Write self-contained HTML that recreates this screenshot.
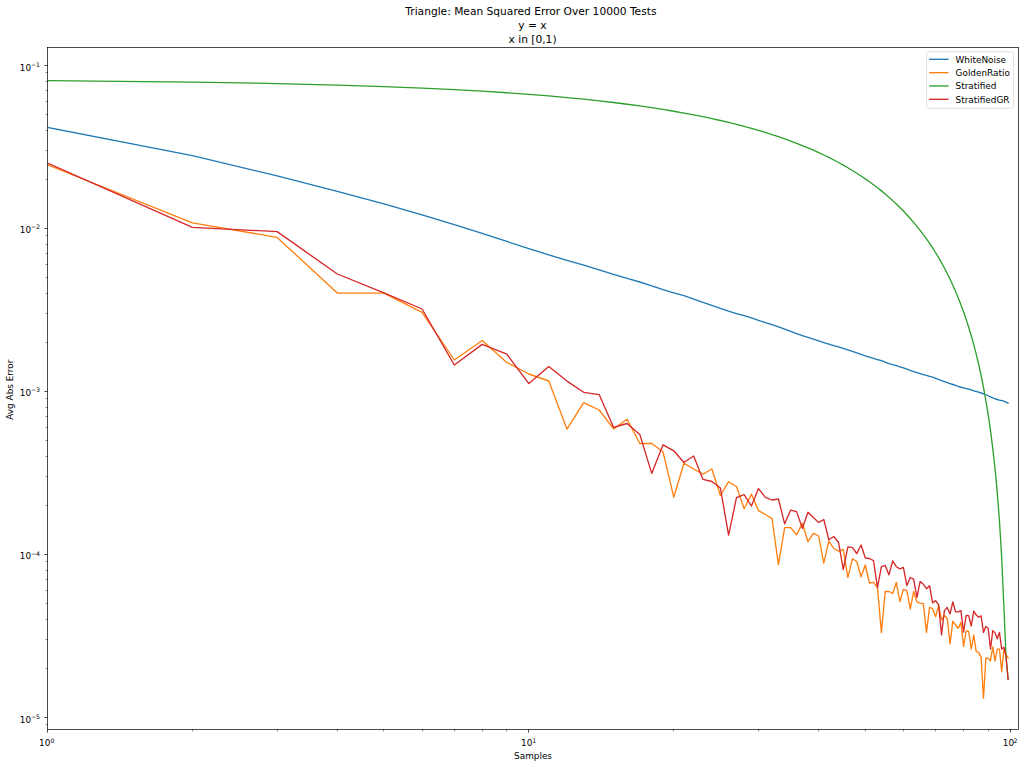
<!DOCTYPE html>
<html><head><meta charset="utf-8"><title>Triangle: Mean Squared Error Over 10000 Tests</title><style>
html,body{margin:0;padding:0;background:#fff;}
body{width:1024px;height:767px;overflow:hidden;}
svg{display:block;}
</style></head><body>
<svg width="1024" height="767" viewBox="0 0 1024 767">
<defs><clipPath id="c"><rect x="47.5" y="47.5" width="971" height="682"/></clipPath></defs>
<rect width="1024" height="767" fill="#fff"/>
<g clip-path="url(#c)" fill="none" stroke-width="1.33" stroke-linejoin="round" stroke-linecap="square">
<polyline stroke="#1f77b4" points="47.5,127.3 192.4,155.66 277.16,175.89 337.3,191.35 383.95,203.97 422.06,214.94 454.29,224.55 482.2,233.39 506.82,241.45 528.85,248.6 548.77,254.87 566.96,260.31 583.7,265.09 599.19,269.78 613.61,274.47 627.1,278.46 639.78,282 651.73,285.8 663.03,289.59 673.75,292.77 683.95,295.71 693.68,299.03 702.97,302.33 711.86,305.4 720.4,308.43 728.6,311.2 736.49,313.57 744.09,315.72 751.43,317.94 758.51,320.34 765.37,322.62 772,324.69 778.44,326.84 784.68,329.11 790.74,331.36 796.63,333.51 802.35,335.56 807.93,337.44 813.36,339.19 818.65,340.94 823.81,342.59 828.85,344.11 833.77,345.53 838.58,346.91 843.27,348.41 847.87,349.96 852.36,351.41 856.77,352.86 861.08,354.38 865.3,355.81 869.44,357.08 873.5,358.36 877.48,359.58 881.39,360.73 885.22,362.08 888.99,363.56 892.69,364.73 896.33,365.73 899.9,366.78 903.41,367.88 906.87,369.1 910.27,370.38 913.61,371.55 916.9,372.63 920.15,373.65 923.34,374.58 926.48,375.43 929.58,376.3 932.63,377.23 935.64,378.28 938.6,379.48 941.53,380.63 944.41,381.62 947.25,382.58 950.06,383.55 952.83,384.5 955.56,385.45 958.26,386.38 960.92,387.25 963.55,387.97 966.15,388.56 968.71,389.18 971.25,389.96 973.75,390.77 976.23,391.5 978.67,392.23 981.09,393 983.48,393.84 985.84,394.75 988.17,395.74 990.48,396.8 992.77,397.84 995.03,398.75 997.27,399.5 999.48,400.05 1001.67,400.52 1003.83,401.14 1005.98,402.05 1008.1,403.1"/>
<polyline stroke="#ff7f0e" points="47.5,164.8 192.4,222.8 277.16,237.4 337.3,293.1 383.95,293.2 422.06,312.4 454.29,360 482.2,340.5 506.82,362.5 528.85,374 548.77,381 566.96,429.1 583.7,402.7 599.19,410 613.61,428.9 627.1,419.3 639.78,443.5 651.73,443.5 663.03,451.8 673.75,497.2 683.95,463.3 693.68,469 702.97,474.2 711.86,469 720.4,495.5 728.6,481.7 736.49,486.5 744.09,508.8 751.43,494.2 758.51,510.7 765.37,514.5 772,518.6 778.44,564.7 784.68,527.6 790.74,527.6 796.63,534.9 802.35,523.3 807.93,541.7 813.36,533.3 818.65,536 823.81,563.1 828.85,541.2 833.77,548.5 838.58,551.1 843.27,549.5 847.87,577.7 852.36,558.9 856.77,561.5 861.08,576.8 865.3,565 869.44,583 873.5,582.4 877.48,587.6 881.39,632.6 885.22,591.5 888.99,591.5 892.69,593.5 896.33,582.4 899.9,601.5 903.41,589.3 906.87,590.6 910.27,609.1 913.61,591.5 916.9,601.9 920.15,603.2 923.34,603.6 926.48,632.4 929.58,607.4 932.63,608.7 935.64,616.7 938.6,605.4 941.53,619.8 944.41,615.5 947.25,618.5 950.06,643.9 952.83,621.1 955.56,625 958.26,628.2 960.92,622.4 963.55,646.5 966.15,630.8 968.71,631.5 971.25,649 973.75,635 976.23,651.7 978.67,652.4 981.09,657.4 983.48,698.3 985.84,658.1 988.17,658.4 990.48,661 992.77,646.9 995.03,661 997.27,649.2 999.48,649.2 1001.67,671.8 1003.83,649.5 1005.98,655 1008.1,657.8"/>
<polyline stroke="#2ca02c" points="47.5,80.63 192.4,82.09 277.16,83.56 337.3,85.05 383.95,86.55 422.06,88.07 454.29,89.6 482.2,91.16 506.82,92.72 528.85,94.31 548.77,95.91 566.96,97.54 583.7,99.18 599.19,100.84 613.61,102.52 627.1,104.22 639.78,105.94 651.73,107.68 663.03,109.44 673.75,111.22 683.95,113.03 693.68,114.86 702.97,116.71 711.86,118.59 720.4,120.49 728.6,122.42 736.49,124.38 744.09,126.36 751.43,128.37 758.51,130.41 765.37,132.48 772,134.58 778.44,136.71 784.68,138.87 790.74,141.07 796.63,143.3 802.35,145.56 807.93,147.87 813.36,150.21 818.65,152.59 823.81,155.01 828.85,157.47 833.77,159.97 838.58,162.52 843.27,165.12 847.87,167.76 852.36,170.45 856.77,173.2 861.08,176 865.3,178.85 869.44,181.77 873.5,184.74 877.48,187.78 881.39,190.88 885.22,194.05 888.99,197.3 892.69,200.62 896.33,204.02 899.9,207.5 903.41,211.07 906.87,214.73 910.27,218.49 913.61,222.34 916.9,226.31 920.15,230.39 923.34,234.59 926.48,238.91 929.58,243.38 932.63,247.98 935.64,252.74 938.6,257.66 941.53,262.76 944.41,268.05 947.25,273.54 950.06,279.26 952.83,285.21 955.56,291.41 958.26,297.91 960.92,304.71 963.55,311.85 966.15,319.36 968.71,327.3 971.25,335.7 973.75,344.63 976.23,354.15 978.67,364.36 981.09,375.35 983.48,387.26 985.84,400.25 988.17,414.55 990.48,430.44 992.77,448.32 995.03,468.77 997.27,492.65 999.48,521.34 1001.67,557.29 1003.83,605.45 1005.98,656 1008.1,679.3"/>
<polyline stroke="#d62728" points="47.5,163 192.4,227.4 277.16,231.6 337.3,274 383.95,292.9 422.06,309 454.29,365 482.2,344.4 506.82,354.2 528.85,383.6 548.77,366.4 566.96,381.1 583.7,392.3 599.19,394.6 613.61,427.4 627.1,423.5 639.78,434.4 651.73,473.4 663.03,444.8 673.75,450.8 683.95,462.5 693.68,456 702.97,479.4 711.86,481.5 720.4,488 728.6,535.2 736.49,497.6 744.09,494.7 751.43,506 758.51,488.6 765.37,497.3 772,500 778.44,499 784.68,523.8 790.74,510.1 796.63,511.6 802.35,528.3 807.93,512.2 813.36,517.5 818.65,522.4 823.81,519.5 828.85,539.8 833.77,536.5 838.58,542.5 843.27,569.7 847.87,546.9 852.36,547.4 856.77,553.5 861.08,545 865.3,558 869.44,558.5 873.5,560.6 877.48,587.6 881.39,566.7 885.22,565.4 888.99,574.9 892.69,560.9 896.33,566.7 899.9,568.9 903.41,567.4 906.87,585.6 910.27,577.5 913.61,579.1 916.9,597.4 920.15,581.4 923.34,584.3 926.48,588.7 929.58,585.8 932.63,603 935.64,600.6 938.6,604.8 941.53,634.8 944.41,610.6 947.25,607.4 950.06,613.9 952.83,601.9 955.56,611.9 958.26,611.9 960.92,610.6 963.55,632.2 966.15,615.5 968.71,615.6 971.25,626 973.75,611 976.23,615.1 978.67,617.3 981.09,615.8 983.48,632.5 985.84,626.5 988.17,628.3 990.48,649 992.77,630.6 995.03,632.9 997.27,638.8 999.48,632.5 1001.67,649 1003.83,647.2 1005.98,656 1008.1,679.3"/>
</g>
<g stroke="#000" fill="none"><path d="M47.5 729.5v3.11" stroke-width="0.71"/><path d="M192.5 729.5v1.78" stroke-width="0.53"/><path d="M277.5 729.5v1.78" stroke-width="0.53"/><path d="M337.5 729.5v1.78" stroke-width="0.53"/><path d="M383.5 729.5v1.78" stroke-width="0.53"/><path d="M422.5 729.5v1.78" stroke-width="0.53"/><path d="M454.5 729.5v1.78" stroke-width="0.53"/><path d="M482.5 729.5v1.78" stroke-width="0.53"/><path d="M506.5 729.5v1.78" stroke-width="0.53"/><path d="M528.5 729.5v3.11" stroke-width="0.71"/><path d="M673.5 729.5v1.78" stroke-width="0.53"/><path d="M758.5 729.5v1.78" stroke-width="0.53"/><path d="M818.5 729.5v1.78" stroke-width="0.53"/><path d="M865.5 729.5v1.78" stroke-width="0.53"/><path d="M903.5 729.5v1.78" stroke-width="0.53"/><path d="M935.5 729.5v1.78" stroke-width="0.53"/><path d="M963.5 729.5v1.78" stroke-width="0.53"/><path d="M988.5 729.5v1.78" stroke-width="0.53"/><path d="M1010.5 729.5v3.11" stroke-width="0.71"/><path d="M47.5 724.5h-1.78" stroke-width="0.53"/><path d="M47.5 717.5h-3.11" stroke-width="0.71"/><path d="M47.5 668.5h-1.78" stroke-width="0.53"/><path d="M47.5 639.5h-1.78" stroke-width="0.53"/><path d="M47.5 619.5h-1.78" stroke-width="0.53"/><path d="M47.5 603.5h-1.78" stroke-width="0.53"/><path d="M47.5 590.5h-1.78" stroke-width="0.53"/><path d="M47.5 579.5h-1.78" stroke-width="0.53"/><path d="M47.5 570.5h-1.78" stroke-width="0.53"/><path d="M47.5 561.5h-1.78" stroke-width="0.53"/><path d="M47.5 554.5h-3.11" stroke-width="0.71"/><path d="M47.5 505.5h-1.78" stroke-width="0.53"/><path d="M47.5 476.5h-1.78" stroke-width="0.53"/><path d="M47.5 456.5h-1.78" stroke-width="0.53"/><path d="M47.5 440.5h-1.78" stroke-width="0.53"/><path d="M47.5 427.5h-1.78" stroke-width="0.53"/><path d="M47.5 416.5h-1.78" stroke-width="0.53"/><path d="M47.5 407.5h-1.78" stroke-width="0.53"/><path d="M47.5 398.5h-1.78" stroke-width="0.53"/><path d="M47.5 391.5h-3.11" stroke-width="0.71"/><path d="M47.5 342.5h-1.78" stroke-width="0.53"/><path d="M47.5 313.5h-1.78" stroke-width="0.53"/><path d="M47.5 293.5h-1.78" stroke-width="0.53"/><path d="M47.5 277.5h-1.78" stroke-width="0.53"/><path d="M47.5 264.5h-1.78" stroke-width="0.53"/><path d="M47.5 253.5h-1.78" stroke-width="0.53"/><path d="M47.5 244.5h-1.78" stroke-width="0.53"/><path d="M47.5 235.5h-1.78" stroke-width="0.53"/><path d="M47.5 228.5h-3.11" stroke-width="0.71"/><path d="M47.5 179.5h-1.78" stroke-width="0.53"/><path d="M47.5 150.5h-1.78" stroke-width="0.53"/><path d="M47.5 130.5h-1.78" stroke-width="0.53"/><path d="M47.5 114.5h-1.78" stroke-width="0.53"/><path d="M47.5 101.5h-1.78" stroke-width="0.53"/><path d="M47.5 90.5h-1.78" stroke-width="0.53"/><path d="M47.5 81.5h-1.78" stroke-width="0.53"/><path d="M47.5 72.5h-1.78" stroke-width="0.53"/><path d="M47.5 65.5h-3.11" stroke-width="0.71"/></g>
<rect x="47.5" y="47.5" width="971" height="682" fill="none" stroke="#000" stroke-width="0.71" stroke-linejoin="miter"/>
<g fill="#000" style="font-family:'DejaVu Sans',sans-serif">
<text x="19.77" y="70.5" font-size="8.89">10</text><text x="30.89" y="67.1" font-size="6.22">−1</text>
<text x="19.77" y="232.75" font-size="8.89">10</text><text x="30.89" y="229.35" font-size="6.22">−2</text>
<text x="19.77" y="395.75" font-size="8.89">10</text><text x="30.89" y="392.35" font-size="6.22">−3</text>
<text x="19.77" y="559.4" font-size="8.89">10</text><text x="30.89" y="556" font-size="6.22">−4</text>
<text x="19.77" y="722.5" font-size="8.89">10</text><text x="30.89" y="719.1" font-size="6.22">−5</text>
<text x="39.08" y="745.85" font-size="8.89">10</text><text x="50.59" y="742.5" font-size="6.22">0</text>
<text x="521.12" y="745.85" font-size="8.89">10</text><text x="532.32" y="742.5" font-size="6.22">1</text>
<text x="1002.82" y="745.85" font-size="8.89">10</text><text x="1013.6" y="742.5" font-size="6.22">2</text>
<text x="405.33" y="15.3" font-size="10.67">Triangle: Mean Squared Error Over 10000 Tests</text>
<text x="518.2" y="28.9" font-size="10.67">y = x</text>
<text x="508.5" y="42.5" font-size="10.67">x in [0,1)</text>
<text x="514.1" y="759.1" font-size="8.89">Samples</text>
<text transform="translate(13 419.7) rotate(-90)" font-size="8.89">Avg Abs Error</text>
</g>
<rect x="926.6" y="51.8" width="86.9" height="56.5" rx="1.78" fill="#fff" fill-opacity="0.8" stroke="#ccc" stroke-opacity="0.8" stroke-width="0.71"/>
<g stroke-width="1.33" stroke-linecap="square">
<path d="M929.8 59.3H947.9" stroke="#1f77b4"/>
<path d="M929.8 72.63H947.9" stroke="#ff7f0e"/>
<path d="M929.8 85.97H947.9" stroke="#2ca02c"/>
<path d="M929.8 99.3H947.9" stroke="#d62728"/>
</g>
<g fill="#000" style="font-family:'DejaVu Sans',sans-serif" font-size="8.89">
<text x="955.6" y="62.5">WhiteNoise</text>
<text x="955.6" y="75.83">GoldenRatio</text>
<text x="955.6" y="89.17">Stratified</text>
<text x="955.6" y="102.5">StratifiedGR</text>
</g>
</svg>
</body></html>
